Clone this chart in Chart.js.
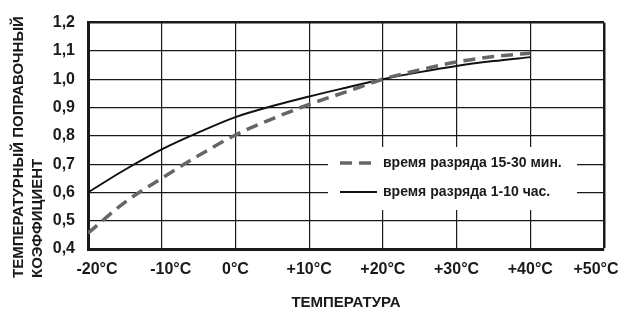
<!DOCTYPE html>
<html>
<head>
<meta charset="utf-8">
<script src="https://cdn.jsdelivr.net/npm/chart.js@4.4.1/dist/chart.umd.min.js"></script>
<style>
  body { margin: 0; background: #fff; }
  #wrap { width: 619px; height: 311px; }
</style>
</head>
<body>
<div id="wrap"><canvas id="chart"></canvas></div>
<script>
const temps = [-20, -15, -10, -5, 0, 5, 10, 15, 20, 25, 30, 35, 40];
const shortDischarge = [0.456, 0.565, 0.65, 0.73, 0.803, 0.86, 0.911, 0.955, 1.0, 1.033, 1.061, 1.08, 1.092];
const longDischarge = [0.60, 0.68, 0.752, 0.812, 0.866, 0.905, 0.939, 0.97, 1.0, 1.025, 1.047, 1.064, 1.078];
const seriesNames = ["время разряда 15-30 мин.", "время разряда 1-10 час."];
const xTickLabels = ["-20°C", "-10°C", "0°C", "+10°C", "+20°C", "+30°C", "+40°C", "+50°C"];
const yTickLabels = ["0,4", "0,5", "0,6", "0,7", "0,8", "0,9", "1,0", "1,1", "1,2"];
const yTitle = ["ТЕМПЕРАТУРНЫЙ ПОПРАВОЧНЫЙ", "КОЭФФИЦИЕНТ"];
const xTitle = "ТЕМПЕРАТУРА";

const FONT = '"Liberation Sans", Arial, Helvetica, sans-serif';
const INK = "#1a1a1a";

const toPoints = (vals) => temps.map((t, i) => ({ x: t, y: vals[i] }));

// titles, x tick labels and the boxed legend inside the plot
const extras = {
  id: "extras",
  afterDatasetsDraw(chart) {
    const { ctx } = chart;
    const ds = chart.data.datasets;
    const xs = chart.scales.x;

    ctx.save();
    ctx.fillStyle = "#fff";
    ctx.fillRect(328, 147, 249, 63);

    const rows = [163, 192];
    rows.forEach((y, i) => {
      ctx.beginPath();
      ctx.strokeStyle = ds[i].borderColor;
      ctx.lineWidth = ds[i].borderWidth;
      ctx.setLineDash(ds[i].borderDash || []);
      ctx.moveTo(340, y);
      ctx.lineTo(377, y);
      ctx.stroke();
      ctx.setLineDash([]);
      ctx.fillStyle = INK;
      ctx.font = "bold 14px " + FONT;
      ctx.textAlign = "left";
      ctx.textBaseline = "middle";
      ctx.fillText(ds[i].label, 383, y);
    });

    // x tick labels: negatives nudged right, the last one kept inside the canvas
    ctx.font = "bold 16px " + FONT;
    ctx.fillStyle = INK;
    ctx.textAlign = "center";
    ctx.textBaseline = "middle";
    xs.ticks.forEach((t, i) => {
      let dx = 0;
      if (t.value < 0) dx = 9;
      if (i === xs.ticks.length - 1) dx = -8;
      ctx.fillText(xTickLabels[i], xs.getPixelForValue(t.value) + dx, 270);
    });

    ctx.font = "bold 15px " + FONT;
    ctx.fillText(xTitle, 346, 303);

    [19, 37.5].forEach((x, i) => {
      ctx.save();
      ctx.translate(x, 278);
      ctx.rotate(-Math.PI / 2);
      ctx.textAlign = "left";
      ctx.textBaseline = "middle";
      ctx.fillText(yTitle[i], 0, 0);
      ctx.restore();
    });
    ctx.restore();
  },
};

new Chart(document.getElementById("chart"), {
  type: "line",
  data: {
    datasets: [
      {
        label: seriesNames[0],
        data: toPoints(shortDischarge),
        borderColor: "#666666",
        borderWidth: 3.5,
        borderDash: [12, 7],
        pointRadius: 0,
        cubicInterpolationMode: "monotone",
      },
      {
        label: seriesNames[1],
        data: toPoints(longDischarge),
        borderColor: "#111111",
        borderWidth: 2,
        pointRadius: 0,
        cubicInterpolationMode: "monotone",
      },
    ],
  },
  options: {
    responsive: true,
    maintainAspectRatio: false,
    animation: false,
    layout: { padding: { top: 19, right: 15, left: 0, bottom: 0 } },
    plugins: { legend: { display: false }, tooltip: { enabled: false } },
    scales: {
      x: {
        type: "linear",
        min: -20,
        max: 50,
        afterFit(s) {
          s.height = 62;
          s.paddingLeft = 0;
          s.paddingRight = 0;
        },
        ticks: {
          stepSize: 10,
          display: false,
        },
        grid: {
          color: INK,
          drawTicks: false,
          lineWidth: (c) => (c.index === xTickLabels.length - 1 ? 2.5 : 1.2),
        },
        border: { color: INK, width: 3 },
      },
      y: {
        min: 0.4,
        max: 1.2,
        afterFit(s) {
          s.width = 88;
        },
        ticks: {
          stepSize: 0.1,
          padding: 13,
          color: INK,
          font: { family: FONT, size: 16, weight: "bold" },
          callback: (v, i) => yTickLabels[i],
        },
        grid: {
          color: INK,
          drawTicks: false,
          lineWidth: (c) => (c.index === yTickLabels.length - 1 ? 2.5 : 1.2),
        },
        border: { color: INK, width: 3 },
      },
    },
  },
  plugins: [extras],
});
</script>
</body>
</html>
